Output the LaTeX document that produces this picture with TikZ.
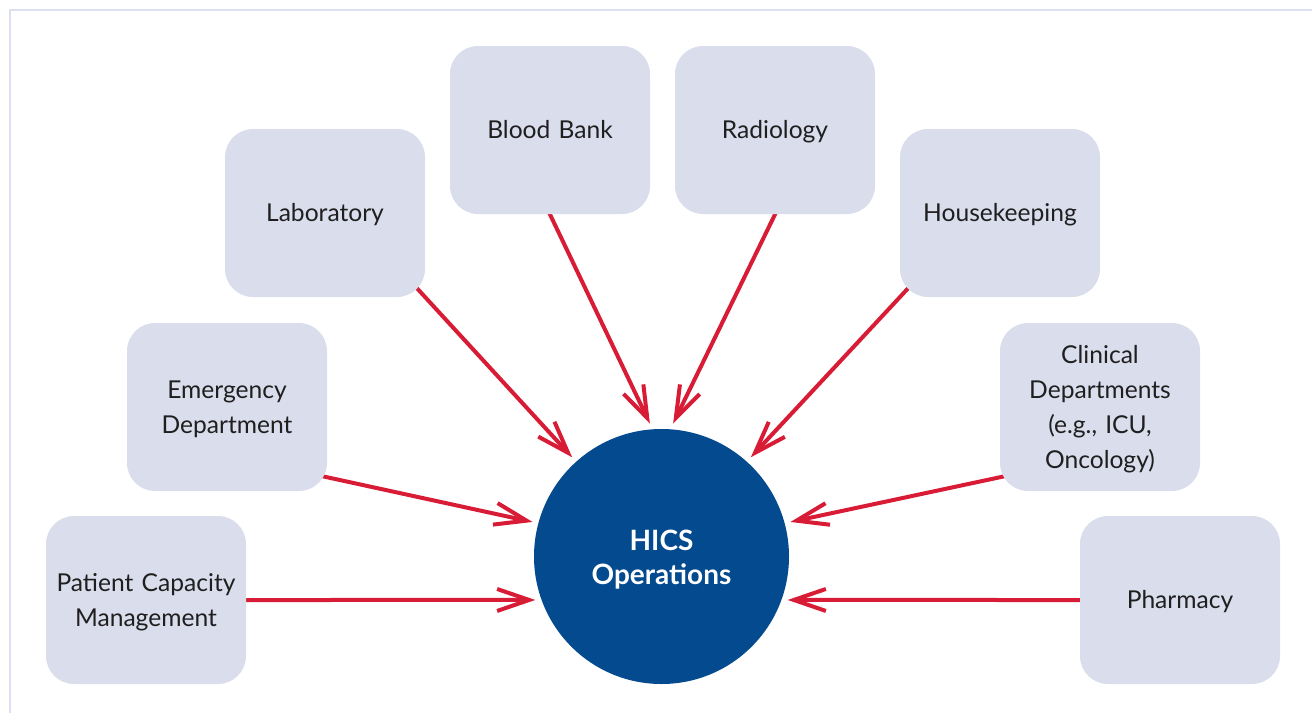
\documentclass[tikz,border=0pt]{standalone}
\usepackage{fontspec}
\setmainfont{Lato}
\usetikzlibrary{arrows.meta,backgrounds}
\definecolor{boxfill}{HTML}{DADDEC}
\definecolor{hicsblue}{HTML}{034A8E}
\definecolor{linkred}{HTML}{D91C36}
\definecolor{framecol}{HTML}{DDE0F0}
\newcommand\textstrut{\rule[-3.5pt]{0pt}{15.8pt}}
\newcommand\hubstrut{\rule[-3.5pt]{0pt}{17.8pt}}
\tikzset{
  dept/.style={fill=boxfill, rounded corners=14pt, minimum width=100pt,
    minimum height=84pt, text width=92pt, align=center, inner sep=0pt,
    text=black!88, font=\fontsize{12.3}{17.5}\selectfont,
    execute at begin node=\textstrut, execute at end node=\textstrut},
  hub/.style={circle, fill=hicsblue, minimum size=127.5pt, inner sep=0pt,
    outer sep=3pt, text width=100pt, align=center, text=white,
    font=\bfseries\fontsize{14}{17}\selectfont,
    execute at begin node=\hubstrut, execute at end node=\textstrut},
  link/.style={draw=linkred, line width=2pt, shorten <=-8pt,
    -{Straight Barb[length=16pt,width=11pt]}}
}
\begin{document}
\begin{tikzpicture}[x=0.5pt,y=-0.5pt]
      \useasboundingbox (0,0) rectangle (1312,713);
      \draw[framecol, line width=1.3pt] (1312,10) -- (10,10) -- (10,713);
      \draw
        (661.5,556.5) node[hub] (hics){HICS\\Operations}
        (146,600) node[dept] (pcm){Patient Capacity\\Management}
        (227,407) node[dept] (ed){Emergency\\Department}
        (325,213) node[dept] (lab){Laboratory}
        (550,130) node[dept] (blood){Blood Bank}
        (775,130) node[dept] (rad){Radiology}
        (1000,213) node[dept] (house){Housekeeping}
        (1100,407) node[dept] (clin){Clinical\\Departments\\(e.g., ICU,\\Oncology)}
        (1180,600) node[dept] (pharm){Pharmacy};
      \begin{scope}[on background layer]
        \draw[link] (pcm.east) to (hics.199);
        \draw[link] (ed.-35) to (hics.165);
        \draw[link] (lab.south east) to (hics.132);
        \draw[link] (blood.south) to (hics.95);
        \draw[link] (rad.south) to (hics.85);
        \draw[link] (house.south west) to (hics.48);
        \draw[link] (clin.-145) to (hics.15);
        \draw[link] (pharm.west) to (hics.341);
      \end{scope}
    \end{tikzpicture}
\end{document}
